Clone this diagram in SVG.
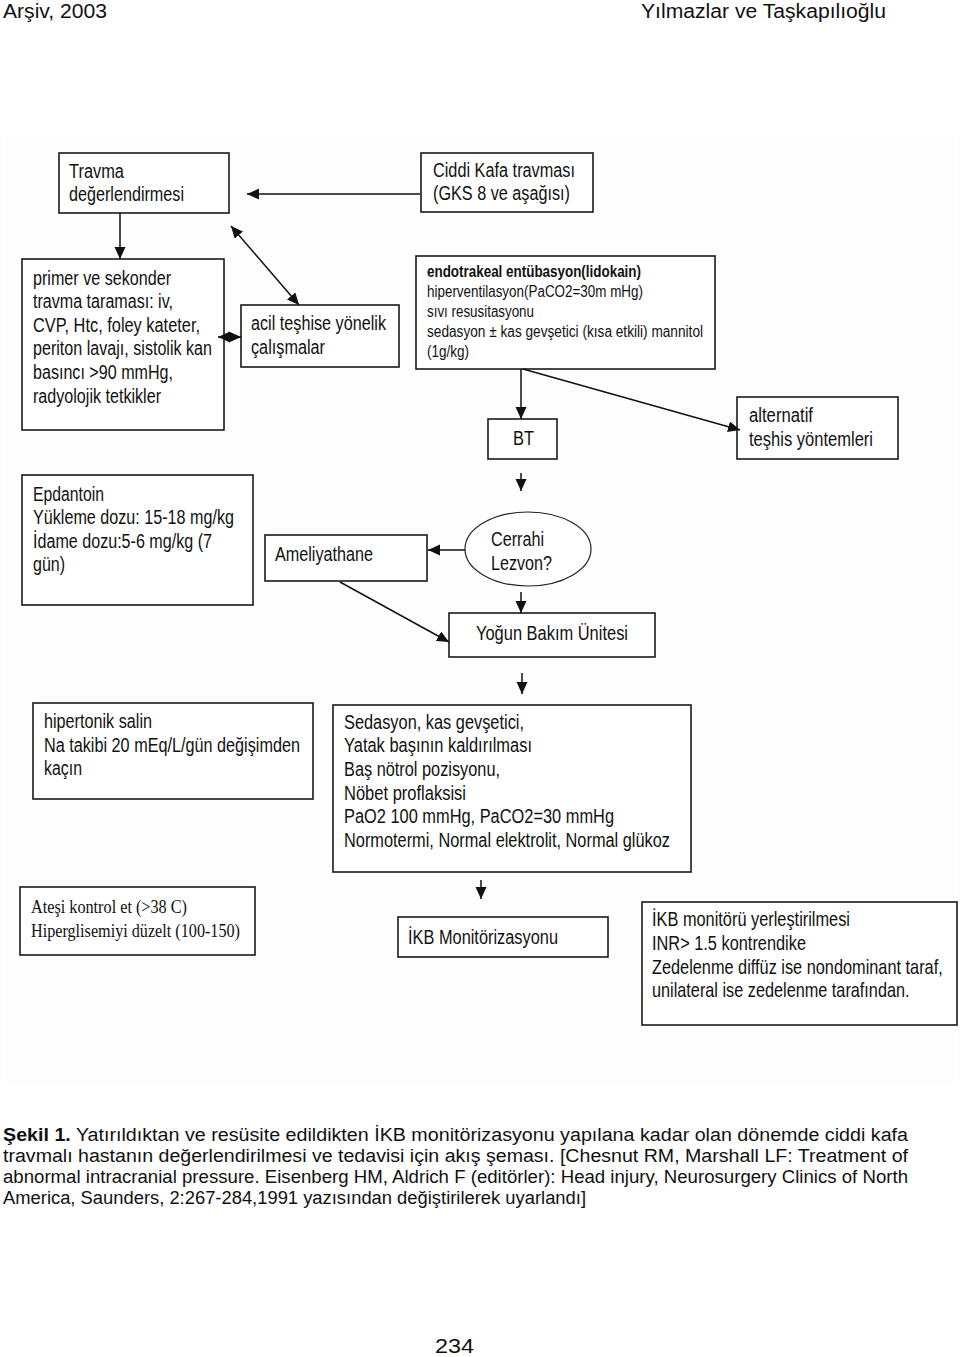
<svg xmlns="http://www.w3.org/2000/svg" width="960" height="1357" viewBox="0 0 960 1357">
<style>
.box{fill:#fff;stroke:#1a1a1a;stroke-width:1.6}
.t{font-family:"Liberation Sans",Arial,sans-serif;font-size:20px;fill:#111}
.s{font-family:"Liberation Sans",Arial,sans-serif;font-size:16px;fill:#111}
.sf{font-family:"Liberation Serif","Times New Roman",serif;font-size:19px;fill:#111}
.cap{font-family:"Liberation Sans",Arial,sans-serif;font-size:18px;fill:#111}
.hd{font-family:"Liberation Sans",Arial,sans-serif;font-size:20px;fill:#111}
.c line{stroke:#111;stroke-width:1.5;marker-end:url(#ah)}
.c line.d{marker-start:url(#ah)}
</style>
<defs>
<marker id="ah" markerUnits="userSpaceOnUse" markerWidth="14" markerHeight="12" refX="12" refY="5.5" orient="auto-start-reverse">
<path d="M0,0 L12,5.5 L0,11 z" fill="#111"/>
</marker>
</defs>
<rect x="0" y="0" width="960" height="1357" fill="#fff"/>
<rect x="5" y="135" width="950" height="950" fill="#fdfdfd"/>

<text class="hd" x="3" y="18" textLength="104" lengthAdjust="spacingAndGlyphs">Arşiv, 2003</text>
<text class="hd" x="641" y="18" textLength="245" lengthAdjust="spacingAndGlyphs">Yılmazlar ve Taşkapılıoğlu</text>

<g id="n-travma">
<rect class="box" x="59" y="153" width="170" height="60"/>
<text class="t" x="69" y="178" textLength="55" lengthAdjust="spacingAndGlyphs">Travma</text>
<text class="t" x="69" y="201" textLength="115" lengthAdjust="spacingAndGlyphs">değerlendirmesi</text>
</g>
<g id="n-ciddi">
<rect class="box" x="421" y="153" width="172" height="59"/>
<text class="t" x="433" y="177" textLength="142" lengthAdjust="spacingAndGlyphs">Ciddi Kafa travması</text>
<text class="t" x="433" y="200" textLength="137" lengthAdjust="spacingAndGlyphs">(GKS 8 ve aşağısı)</text>
</g>
<g id="n-primer">
<rect class="box" x="22" y="259" width="202" height="171"/>
<text class="t" x="33" y="285" textLength="138" lengthAdjust="spacingAndGlyphs">primer ve sekonder</text>
<text class="t" x="33" y="308" textLength="140" lengthAdjust="spacingAndGlyphs">travma taraması: iv,</text>
<text class="t" x="33" y="332" textLength="167" lengthAdjust="spacingAndGlyphs">CVP, Htc, foley kateter,</text>
<text class="t" x="33" y="355" textLength="179" lengthAdjust="spacingAndGlyphs">periton lavajı, sistolik kan</text>
<text class="t" x="33" y="379" textLength="140" lengthAdjust="spacingAndGlyphs">basıncı &gt;90 mmHg,</text>
<text class="t" x="33" y="403" textLength="128" lengthAdjust="spacingAndGlyphs">radyolojik tetkikler</text>
</g>
<g id="n-acil">
<rect class="box" x="241" y="305" width="158" height="62"/>
<text class="t" x="251" y="330" textLength="135" lengthAdjust="spacingAndGlyphs">acil teşhise yönelik</text>
<text class="t" x="251" y="354" textLength="74" lengthAdjust="spacingAndGlyphs">çalışmalar</text>
</g>
<g id="n-endo">
<rect class="box" x="416" y="256" width="299" height="113"/>
<text class="s" x="427" y="277" font-weight="bold" textLength="214" lengthAdjust="spacingAndGlyphs">endotrakeal entübasyon(lidokain)</text>
<text class="s" x="427" y="297" textLength="216" lengthAdjust="spacingAndGlyphs">hiperventilasyon(PaCO2=30m mHg)</text>
<text class="s" x="427" y="317" textLength="107" lengthAdjust="spacingAndGlyphs">sıvı resusitasyonu</text>
<text class="s" x="427" y="337" textLength="276" lengthAdjust="spacingAndGlyphs">sedasyon ± kas gevşetici (kısa  etkili) mannitol</text>
<text class="s" x="427" y="357" textLength="42" lengthAdjust="spacingAndGlyphs">(1g/kg)</text>
</g>
<g id="n-bt">
<rect class="box" x="488" y="419" width="69" height="40"/>
<text class="t" x="513" y="445" textLength="21" lengthAdjust="spacingAndGlyphs">BT</text>
</g>
<g id="n-alt">
<rect class="box" x="737" y="397" width="161" height="62"/>
<text class="t" x="749" y="422" textLength="64" lengthAdjust="spacingAndGlyphs">alternatif</text>
<text class="t" x="749" y="446" textLength="124" lengthAdjust="spacingAndGlyphs">teşhis yöntemleri</text>
</g>
<g id="n-epd">
<rect class="box" x="22" y="475" width="231" height="130"/>
<text class="t" x="33" y="501" textLength="71" lengthAdjust="spacingAndGlyphs">Epdantoin</text>
<text class="t" x="33" y="524" textLength="201" lengthAdjust="spacingAndGlyphs">Yükleme dozu: 15-18 mg/kg</text>
<text class="t" x="33" y="548" textLength="179" lengthAdjust="spacingAndGlyphs">İdame dozu:5-6 mg/kg (7</text>
<text class="t" x="33" y="571" textLength="32" lengthAdjust="spacingAndGlyphs">gün)</text>
</g>
<g id="n-amel">
<rect class="box" x="265" y="535" width="162" height="46"/>
<text class="t" x="275" y="561" textLength="98" lengthAdjust="spacingAndGlyphs">Ameliyathane</text>
</g>
<g id="n-cerrahi">
<ellipse cx="528" cy="549" rx="63" ry="37" fill="#fff" stroke="#222" stroke-width="1.2"/>
<text class="t" x="491" y="546" textLength="53" lengthAdjust="spacingAndGlyphs">Cerrahi</text>
<text class="t" x="491" y="570" textLength="61" lengthAdjust="spacingAndGlyphs">Lezvon?</text>
</g>
<g id="n-yogun">
<rect class="box" x="449" y="613" width="206" height="44"/>
<text class="t" x="476" y="640" textLength="152" lengthAdjust="spacingAndGlyphs">Yoğun Bakım Ünitesi</text>
</g>
<g id="n-hiper">
<rect class="box" x="33" y="703" width="280" height="96"/>
<text class="t" x="44" y="728" textLength="108" lengthAdjust="spacingAndGlyphs">hipertonik salin</text>
<text class="t" x="44" y="752" textLength="256" lengthAdjust="spacingAndGlyphs">Na takibi 20 mEq/L/gün değişimden</text>
<text class="t" x="44" y="775" textLength="38" lengthAdjust="spacingAndGlyphs">kaçın</text>
</g>
<g id="n-sed">
<rect class="box" x="333" y="705" width="358" height="167"/>
<text class="t" x="344" y="729" textLength="180" lengthAdjust="spacingAndGlyphs">Sedasyon, kas gevşetici,</text>
<text class="t" x="344" y="752" textLength="188" lengthAdjust="spacingAndGlyphs">Yatak başının kaldırılması</text>
<text class="t" x="344" y="776" textLength="156" lengthAdjust="spacingAndGlyphs">Baş nötrol pozisyonu,</text>
<text class="t" x="344" y="800" textLength="122" lengthAdjust="spacingAndGlyphs">Nöbet proflaksisi</text>
<text class="t" x="344" y="823" textLength="270" lengthAdjust="spacingAndGlyphs">PaO2 100 mmHg, PaCO2=30 mmHg</text>
<text class="t" x="344" y="847" textLength="326" lengthAdjust="spacingAndGlyphs">Normotermi, Normal elektrolit, Normal glükoz</text>
</g>
<g id="n-ates">
<rect class="box" x="20" y="887" width="235" height="68"/>
<text class="sf" x="31" y="913" textLength="156" lengthAdjust="spacingAndGlyphs">Ateşi kontrol et (&gt;38 C)</text>
<text class="sf" x="31" y="937" textLength="209" lengthAdjust="spacingAndGlyphs">Hiperglisemiyi düzelt (100-150)</text>
</g>
<g id="n-ikbmon">
<rect class="box" x="398" y="917" width="210" height="40"/>
<text class="t" x="408" y="944" textLength="150" lengthAdjust="spacingAndGlyphs">İKB Monitörizasyonu</text>
</g>
<g id="n-ikbyer">
<rect class="box" x="642" y="902" width="315" height="123"/>
<text class="t" x="652" y="926" textLength="198" lengthAdjust="spacingAndGlyphs">İKB monitörü yerleştirilmesi</text>
<text class="t" x="652" y="950" textLength="154" lengthAdjust="spacingAndGlyphs">INR&gt; 1.5 kontrendike</text>
<text class="t" x="0" y="0" transform="translate(652,974) scale(0.85,1)" textLength="342" lengthAdjust="spacingAndGlyphs">Zedelenme diffüz ise nondominant taraf,</text>
<text class="t" x="0" y="0" transform="translate(652,997) scale(0.85,1)" textLength="303" lengthAdjust="spacingAndGlyphs">unilateral ise zedelenme tarafından.</text>
</g>

<g id="connectors" class="c">
<line x1="420" y1="194" x2="247" y2="194"/>
<line x1="120" y1="213" x2="120" y2="259"/>
<line class="d" x1="231" y1="226" x2="299" y2="305"/>
<line class="d" x1="218" y1="337" x2="241" y2="337"/>
<line x1="521" y1="369" x2="521" y2="419"/>
<line x1="523" y1="369" x2="740" y2="430"/>
<line x1="521" y1="473" x2="521" y2="491"/>
<line x1="465" y1="550" x2="428" y2="550"/>
<line x1="521" y1="592" x2="521" y2="613"/>
<line x1="340" y1="582" x2="449" y2="642"/>
<line x1="522" y1="673" x2="522" y2="694"/>
<line x1="481" y1="880" x2="481" y2="899"/>
</g>

<text class="cap" x="3" y="1141" textLength="905" lengthAdjust="spacingAndGlyphs"><tspan font-weight="bold">Şekil 1.</tspan> Yatırıldıktan ve resüsite edildikten İKB monitörizasyonu yapılana kadar olan dönemde ciddi kafa</text>
<text class="cap" x="3" y="1162" textLength="905" lengthAdjust="spacingAndGlyphs">travmalı hastanın değerlendirilmesi ve tedavisi için akış şeması. [Chesnut RM, Marshall LF: Treatment of</text>
<text class="cap" x="3" y="1183" textLength="905" lengthAdjust="spacingAndGlyphs">abnormal intracranial pressure. Eisenberg HM, Aldrich F (editörler): Head injury, Neurosurgery Clinics of North</text>
<text class="cap" x="3" y="1204" textLength="583" lengthAdjust="spacingAndGlyphs">America, Saunders, 2:267-284,1991 yazısından değiştirilerek uyarlandı]</text>

<text class="hd" x="435" y="1353" font-size="22" textLength="39" lengthAdjust="spacingAndGlyphs">234</text>
</svg>
